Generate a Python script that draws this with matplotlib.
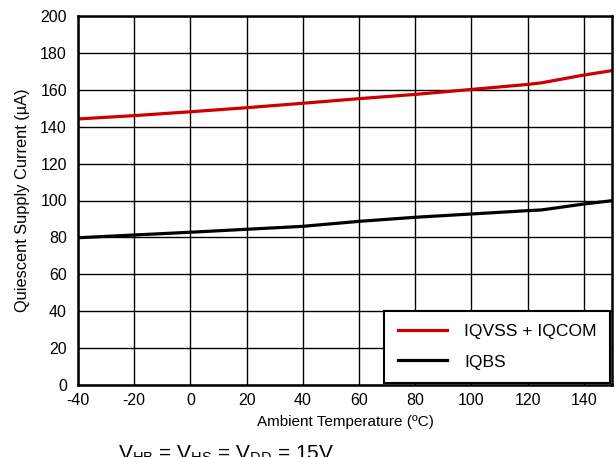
import matplotlib
matplotlib.use("Agg")
import matplotlib.pyplot as plt

plt.rcParams['font.family'] = ['Liberation Sans', 'DejaVu Sans']
plt.rcParams['mathtext.fontset'] = 'custom'
plt.rcParams['mathtext.rm'] = 'Liberation Sans'
plt.rcParams['mathtext.it'] = 'Liberation Sans'
plt.rcParams['axes.unicode_minus'] = False

temp = [-40, -20, 0, 20, 40, 60, 80, 100, 120, 125, 140, 150]
iqvss_iqcom = [144.2, 146.0, 148.1, 150.3, 152.7, 155.2, 157.5, 160.2, 162.9, 163.8, 168.0, 170.4]
iqbs = [79.8, 81.3, 82.8, 84.4, 86.0, 88.7, 90.9, 92.7, 94.5, 94.9, 98.1, 99.9]

xticks = [-40, -20, 0, 20, 40, 60, 80, 100, 120, 140]
yticks = [0, 20, 40, 60, 80, 100, 120, 140, 160, 180, 200]

fig = plt.figure(figsize=(6.16, 4.57), dpi=100)
ax = fig.add_axes([78/616, 1-385/457, (612-78)/616, (385-16)/457])

ax.plot(temp, iqvss_iqcom, color='#cc0000', lw=2.3, label='IQVSS + IQCOM', zorder=3)
ax.plot(temp, iqbs, color='black', lw=2.3, label='IQBS', zorder=3)

ax.set_xlim(-40, 150)
ax.set_ylim(0, 200)
ax.set_xticks(xticks)
ax.set_yticks(yticks)
ax.grid(True, color='black', lw=1.0)
ax.tick_params(length=0, labelsize=11.5)
ax.tick_params(axis='x', pad=6)
ax.tick_params(axis='y', pad=8)
for s in ax.spines.values():
    s.set_linewidth(1.8)
    s.set_zorder(4)

ax.set_xlabel('Ambient Temperature (ºC)', fontsize=11, labelpad=5)
ax.set_ylabel('Quiescent Supply Current (µA)', fontsize=11.8, labelpad=7)

leg = ax.legend(loc='lower right', fontsize=12.6, frameon=True, fancybox=False,
                borderaxespad=0.1, handlelength=2.85, handletextpad=0.95,
                labelspacing=0.85, borderpad=0.78)
leg.get_frame().set_edgecolor('black')
leg.get_frame().set_linewidth(1.5)
leg.get_frame().set_alpha(1)

fig.text(118/616, 1-460/457, r'$\mathrm{V_{HB}}$ = $\mathrm{V_{HS}}$ = $\mathrm{V_{DD}}$ = 15V',
         fontsize=15, va='baseline', ha='left')

fig.savefig('out.png', dpi=100)
